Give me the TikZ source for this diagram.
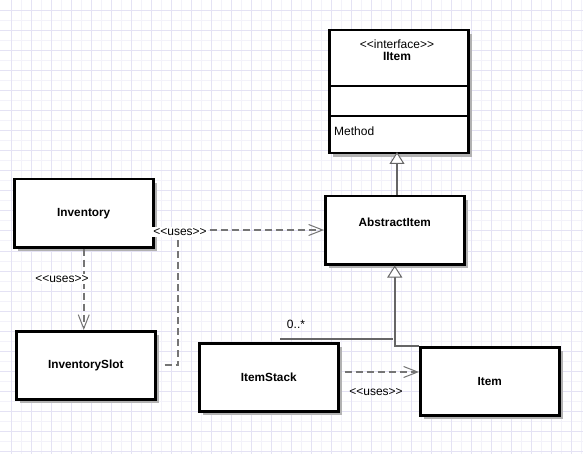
\documentclass[tikz,border=0pt]{standalone}
\usepackage{fontspec}
\setmainfont{Liberation Sans}
\usepackage{xcolor}
\usetikzlibrary{arrows.meta, shadows, positioning}

\definecolor{gridlight}{HTML}{F3F2FA}
\definecolor{griddark}{HTML}{E4E2F4}
\definecolor{linegray}{HTML}{666666}

% stereotype brackets, kept apart so that << does not become a guillemet
\newcommand{\stereo}[1]{<\kern0pt<#1>\kern0pt>}

\begin{document}
\begin{tikzpicture}[x=1pt, y=-1pt,
    classbox/.style={draw=black, line width=2.5pt, fill=white, anchor=north west,
        minimum width=139pt, minimum height=68pt, inner sep=0pt,
        font=\fontsize{11.8}{13}\selectfont\bfseries,
        drop shadow={shadow xshift=4pt, shadow yshift=-4pt, fill=black!30, opacity=1}},
    uses/.style={draw=linegray!90, line width=1.6pt, dash pattern=on 7pt off 4pt,
        -{Straight Barb[length=14pt, width=11pt, line width=1pt]}},
    usesline/.style={draw=linegray!90, line width=1.6pt, dash pattern=on 7pt off 4pt},
    inherit/.style={draw=linegray, line width=1.6pt,
        -{Triangle[open, length=12pt, width=15pt, line width=1pt, fill=white]}},
    lbl/.style={font=\fontsize{12}{14}\selectfont, inner sep=1pt}]
    \useasboundingbox (0,0) rectangle (583,454);

    % 1. Background grid
    \fill[white] (0,0) rectangle (583,454);
    \foreach \x in {21,41,...,581} \draw[gridlight, line width=1pt] (\x,0) -- (\x,454);
    \foreach \y in {21,41,...,441} \draw[gridlight, line width=1pt] (0,\y) -- (583,\y);
    \foreach \x in {11,31,...,571} \draw[griddark, line width=1pt] (\x,0) -- (\x,454);
    \foreach \y in {11,31,...,451} \draw[griddark, line width=1pt] (0,\y) -- (583,\y);

    % 2. Classes
    \node[classbox, minimum height=123pt] (iitem) at (328,29) {};
    \draw[line width=2.5pt] (iitem.west |- 0,86) -- (iitem.east |- 0,86);
    \draw[line width=2.5pt] (iitem.west |- 0,116) -- (iitem.east |- 0,116);
    \node[lbl, align=center] (iitemhead) at (397,50)
        {\stereo{interface}\\[-2pt]\bfseries IItem};
    \node[lbl, anchor=west] (method) at (333,131) {Method};

    \node[classbox, text depth=16pt] (abstract) at (324,195) {AbstractItem};
    \node[classbox] (inventory) at (13,178) {Inventory};
    \node[classbox] (slot) at (15,330) {InventorySlot};
    \node[classbox] (itemstack) at (198,342) {ItemStack};
    \node[classbox] (item) at (419,346) {Item};

    % 3. Generalizations
    \draw[inherit] (397,195) -- (397,152);
    \coordinate (genjoin) at (393,339);
    \draw[draw=linegray, line width=1.6pt] (280,339) -- (genjoin);
    \draw[inherit] (item.north west) -| (abstract.south);
    \node[lbl] (mult) at (296,324) {0..*};

    % 4. Dependencies <<uses>>
    \draw[uses] (inventory.east |- 0,230) -- (abstract.west |- 0,230);
    \coordinate (usesjoin) at (178,230);
    \draw[usesline] ([xshift=8pt]slot.east) -| (usesjoin);
    \node[lbl, fill=white] (uses1) at (180,232) {\stereo{uses}};

    \draw[uses] (inventory.south) -- (inventory.south |- slot.north);
    \node[lbl, fill=white] (uses2) at (62,279) {\stereo{uses}};

    \draw[uses] ([xshift=5pt]itemstack.east |- 0,372) -- (item.west |- 0,372);
    \node[lbl] (uses3) at (376,392) {\stereo{uses}};

\end{tikzpicture}
\end{document}
